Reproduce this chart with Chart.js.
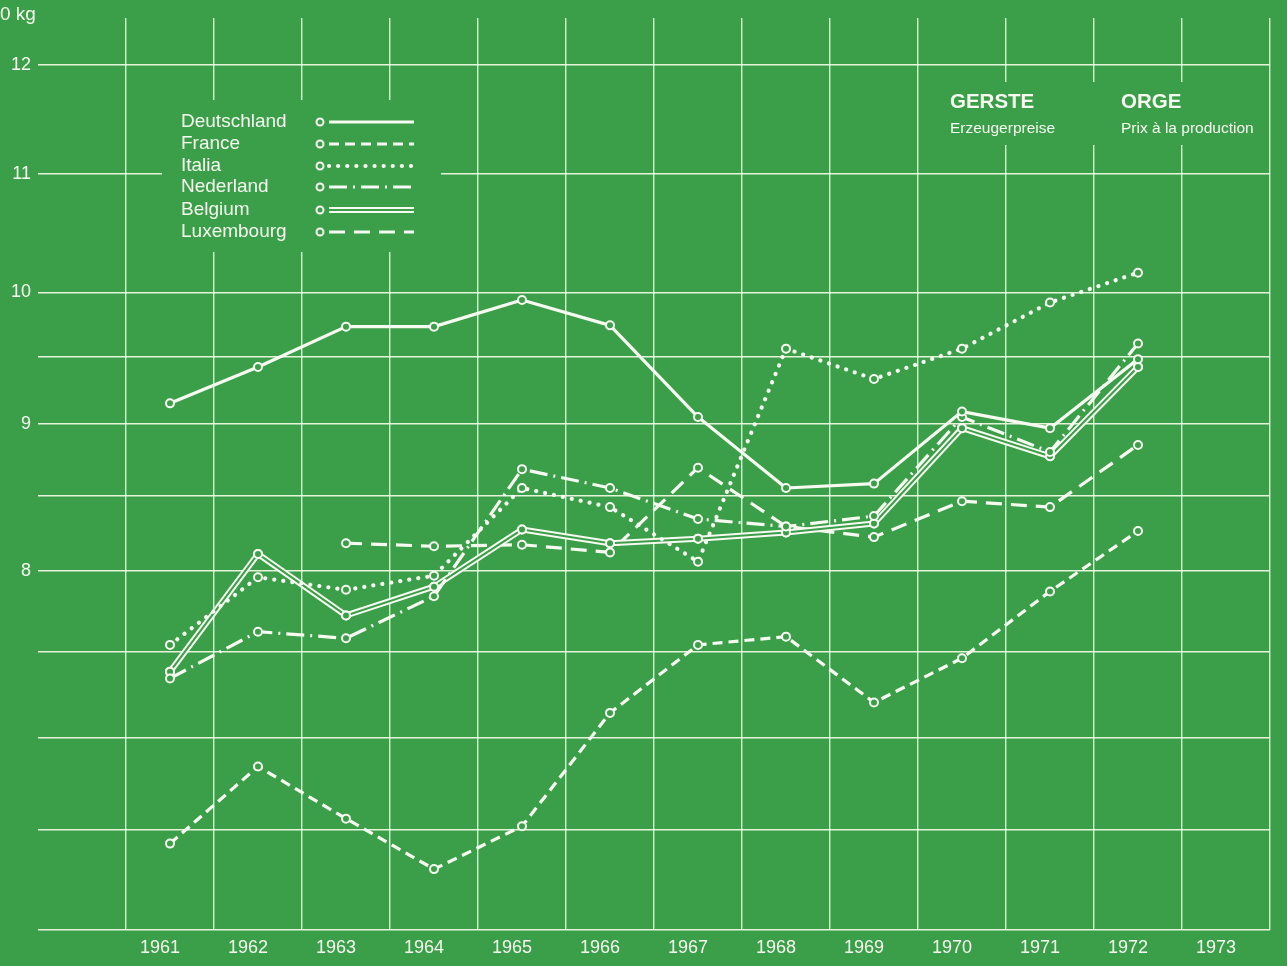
<!DOCTYPE html>
<html><head><meta charset="utf-8">
<script src="https://cdn.jsdelivr.net/npm/chart.js@4/dist/chart.umd.min.js"></script>
<style>html,body{margin:0;padding:0;background:#3b9e49;overflow:hidden}canvas{display:block}</style>
</head><body>
<canvas id="c" width="1287" height="966"></canvas>
<script>
// ---- data ----
const categories = ['', '1961', '1962', '1963', '1964', '1965', '1966', '1967', '1968', '1969', '1970', '1971', '1972', '1973'];
const deutschland = [null, 9.15, 9.42, 9.73, 9.73, 9.94, 9.74, 9.05, 8.55, 8.58, 9.09, 8.97, 9.48, null];
const france      = [null, 6.43, 6.84, 6.56, 6.30, 6.52, 7.14, 7.54, 7.59, 7.20, 7.46, 7.87, 8.26, null];
const italia      = [null, 7.54, 7.96, 7.88, 7.97, 8.55, 8.42, 8.06, 9.56, 9.33, 9.56, 9.92, 10.16, null];
const nederland   = [null, 7.34, 7.62, 7.58, 7.84, 8.68, 8.55, 8.34, 8.29, 8.36, 9.05, 8.80, 9.60, null];
const belgium     = [null, 7.38, 8.11, 7.72, 7.90, 8.27, 8.18, 8.21, 8.25, 8.31, 8.97, 8.77, 9.42, null];
const luxembourg  = [null, null, null, 8.18, 8.16, 8.17, 8.12, 8.69, 8.29, 8.22, 8.46, 8.42, 8.85, null];
const seriesNames = ['Deutschland', 'France', 'Italia', 'Nederland', 'Belgium', 'Luxembourg'];
const yTickValues = [6, 6.5, 7, 7.5, 8, 8.5, 9, 9.5, 10, 11, 12];
const yTickLabels = ['', '', '', '', '8', '', '9', '', '10', '11', '12'];
const unitLabel = '0 kg';
const titleDe = 'GERSTE', subtitleDe = 'Erzeugerpreise';
const titleFr = 'ORGE', subtitleFr = 'Prix à la production';

// ---- styles ----
const GREEN = '#3b9e49';
const WHITE = '#f6faf0';
const GRID = 'rgba(238,248,226,0.95)';
const FONT = '"Liberation Sans", Arial, Helvetica, sans-serif';
const lineStyles = [
  {dash: [], width: 3.2, cap: 'butt'},
  {dash: [10, 6], width: 3.2, cap: 'butt'},
  {dash: [0.1, 9], width: 4.2, cap: 'round'},
  {dash: [18, 6, 2, 6], width: 3.2, cap: 'butt'},
  {dash: [], width: 6, cap: 'butt', double: true},
  {dash: [16, 9], width: 3.2, cap: 'butt'}
];
const seriesData = [deutschland, france, italia, nederland, belgium, luxembourg];

const datasets = seriesNames.map((name, i) => ({
  label: name,
  data: seriesData[i],
  borderColor: WHITE,
  borderWidth: lineStyles[i].width,
  borderDash: lineStyles[i].dash,
  borderCapStyle: lineStyles[i].cap,
  borderJoinStyle: 'round',
  tension: 0,
  fill: false,
  spanGaps: false,
  pointRadius: 4,
  pointHoverRadius: 4,
  pointBorderWidth: 2,
  pointBackgroundColor: GREEN,
  pointBorderColor: WHITE
}));

const decorPlugin = {
  id: 'decor',
  beforeDraw(chart) {
    const ctx = chart.ctx;
    ctx.save();
    ctx.fillStyle = GREEN;
    ctx.fillRect(0, 0, chart.width, chart.height);
    ctx.restore();
  },
  beforeDatasetsDraw(chart) {
    // blank areas of the grid behind legend and title
    const ctx = chart.ctx;
    ctx.save();
    ctx.fillStyle = GREEN;
    ctx.fillRect(162, 100, 279, 152);
    ctx.fillRect(930, 82, 335, 63);
    ctx.restore();
  },
  afterDatasetDraw(chart, args) {
    if (!lineStyles[args.index].double) return;
    const ctx = chart.ctx;
    const pts = args.meta.data.filter(p => !p.skip);
    ctx.save();
    ctx.strokeStyle = GREEN;
    ctx.lineWidth = 2;
    ctx.lineJoin = 'round';
    ctx.beginPath();
    pts.forEach((p, k) => k ? ctx.lineTo(p.x, p.y) : ctx.moveTo(p.x, p.y));
    ctx.stroke();
    pts.forEach(p => {
      ctx.beginPath();
      ctx.arc(p.x, p.y, 4, 0, Math.PI * 2);
      ctx.fillStyle = GREEN; ctx.fill();
      ctx.lineWidth = 2; ctx.strokeStyle = WHITE; ctx.stroke();
    });
    ctx.restore();
  },
  afterDraw(chart) {
    const ctx = chart.ctx;
    ctx.save();
    ctx.fillStyle = WHITE;
    ctx.textBaseline = 'middle';
    ctx.textAlign = 'left';
    ctx.font = '19px ' + FONT;
    ctx.fillText(unitLabel, 0, 15);
    // legend
    const rowsY = [122, 144, 166, 187, 210, 232];
    ctx.font = '19px ' + FONT;
    seriesNames.forEach((name, i) => {
      const y = rowsY[i];
      ctx.fillStyle = WHITE;
      ctx.fillText(name, 181, y);
      const st = lineStyles[i];
      ctx.beginPath();
      ctx.setLineDash(st.dash);
      ctx.lineCap = st.cap;
      ctx.lineWidth = st.double ? 6 : st.width;
      ctx.strokeStyle = WHITE;
      ctx.moveTo(329, y); ctx.lineTo(414, y);
      ctx.stroke();
      if (st.double) {
        ctx.beginPath(); ctx.lineWidth = 2; ctx.strokeStyle = GREEN;
        ctx.moveTo(327, y); ctx.lineTo(416, y); ctx.stroke();
      }
      ctx.setLineDash([]);
      ctx.beginPath();
      ctx.arc(320, y, 3.5, 0, Math.PI * 2);
      ctx.fillStyle = GREEN; ctx.fill();
      ctx.lineWidth = 2; ctx.strokeStyle = WHITE; ctx.stroke();
    });
    // title
    ctx.fillStyle = WHITE;
    ctx.font = 'bold 20.5px ' + FONT;
    ctx.fillText(titleDe, 950, 102);
    ctx.fillText(titleFr, 1121, 102);
    ctx.font = '15.5px ' + FONT;
    ctx.fillText(subtitleDe, 950, 129);
    ctx.fillText(subtitleFr, 1121, 129);
    ctx.restore();
  }
};

new Chart(document.getElementById('c'), {
  type: 'line',
  data: {labels: categories, datasets},
  options: {
    responsive: false,
    animation: false,
    devicePixelRatio: 1,
    layout: {padding: {top: 18, right: 17, left: 0, bottom: 0}},
    plugins: {legend: {display: false}, tooltip: {enabled: false}, title: {display: false}},
    scales: {
      x: {
        type: 'category',
        offset: true,
        border: {display: false},
        grid: {
          offset: true,
          drawTicks: false,
          lineWidth: 1.4,
          color: c => c.index === 0 ? 'rgba(0,0,0,0)' : GRID
        },
        ticks: {
          color: WHITE, font: {family: FONT, size: 18},
          padding: 7, labelOffset: -10, maxRotation: 0, autoSkip: false
        },
        afterFit: s => { s.height = 36; }
      },
      y: {
        type: 'logarithmic',
        min: 6, max: 12.46,
        border: {display: false},
        grid: {drawTicks: false, lineWidth: 1.4, color: GRID},
        afterBuildTicks: s => { s.ticks = yTickValues.map(v => ({value: v})); },
        ticks: {
          color: WHITE, font: {family: FONT, size: 18}, padding: 7,
          callback: (v) => { const k = yTickValues.indexOf(v); return k >= 0 ? yTickLabels[k] : ''; }
        },
        afterFit: s => { s.width = 38; }
      }
    }
  },
  plugins: [decorPlugin]
});
</script>
</body></html>
